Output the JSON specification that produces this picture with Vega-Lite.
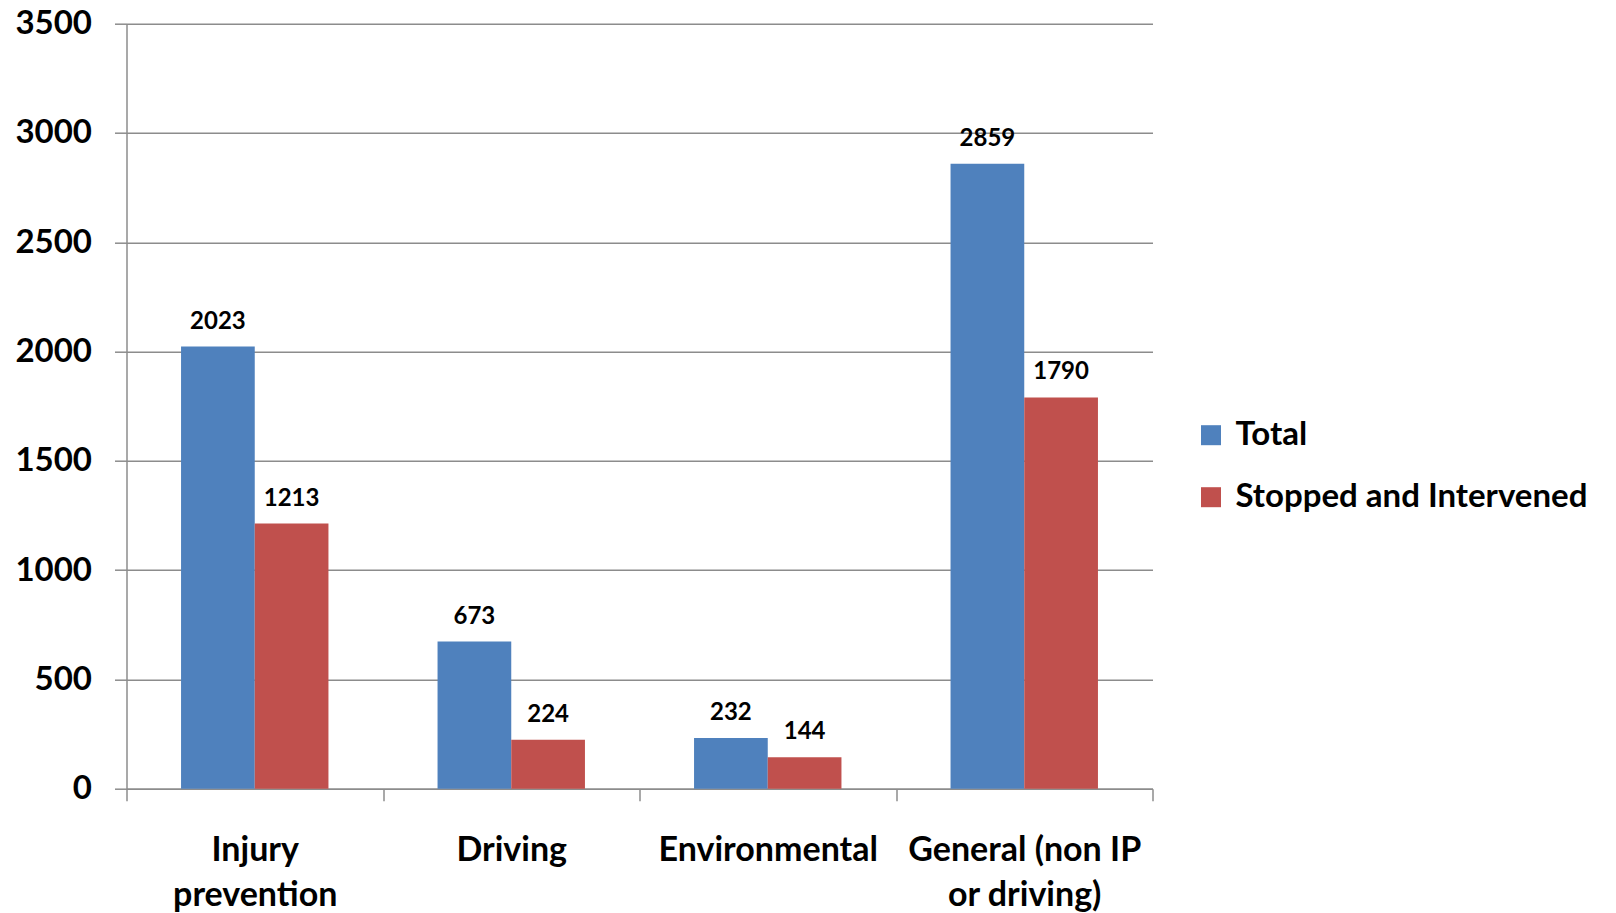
{
  "$schema": "https://vega.github.io/schema/vega-lite/v6.json",
  "autosize": {"type": "none"},
  "padding": {"left": 126.5, "top": 23.7, "right": 463.5, "bottom": 124.3},
  "width": 1026,
  "height": 765,
  "background": "white",
  "data": {
    "values": [
      {"category": "Injury prevention", "series": "Total", "value": 2023},
      {"category": "Injury prevention", "series": "Stopped and Intervened", "value": 1213},
      {"category": "Driving", "series": "Total", "value": 673},
      {"category": "Driving", "series": "Stopped and Intervened", "value": 224},
      {"category": "Environmental", "series": "Total", "value": 232},
      {"category": "Environmental", "series": "Stopped and Intervened", "value": 144},
      {"category": "General (non IP or driving)", "series": "Total", "value": 2859},
      {"category": "General (non IP or driving)", "series": "Stopped and Intervened", "value": 1790}
    ]
  },
  "config": {
    "view": {"stroke": null},
    "font": "Lato"
  },
  "encoding": {
    "x": {
      "field": "category",
      "type": "nominal",
      "sort": null,
      "title": null,
      "scale": {"paddingInner": 0, "paddingOuter": 0},
      "axis": {
        "labelAngle": 0,
        "labelFont": "Lato",
        "labelFontWeight": "bold",
        "labelFontSize": 34,
        "labelColor": "#000000",
        "labelLineHeight": 45,
        "labelPadding": 33,
        "labelLimit": 400,
        "tickBand": "extent",
        "tickSize": 12,
        "tickColor": "#8c8c8c",
        "tickWidth": 1.5,
        "domainColor": "#8c8c8c",
        "domainWidth": 1.5,
        "grid": false,
        "labelExpr": "datum.value == 'Injury prevention' ? ['Injury', 'prevention'] : datum.value == 'General (non IP or driving)' ? ['General (non IP', 'or driving)'] : datum.value"
      }
    },
    "xOffset": {
      "field": "series",
      "type": "nominal",
      "sort": ["Total", "Stopped and Intervened"],
      "scale": {"paddingInner": 0, "paddingOuter": 0.74}
    },
    "y": {
      "field": "value",
      "type": "quantitative",
      "title": null,
      "scale": {"domain": [0, 3500], "nice": false},
      "axis": {
        "values": [0, 500, 1000, 1500, 2000, 2500, 3000, 3500],
        "labelFont": "Lato",
        "labelFontWeight": "bold",
        "labelFontSize": 33,
        "labelColor": "#000000",
        "labelPadding": 23,
        "tickSize": 12,
        "tickColor": "#8c8c8c",
        "tickWidth": 1.5,
        "domainColor": "#8c8c8c",
        "domainWidth": 1.5,
        "gridColor": "#8c8c8c",
        "gridWidth": 1.5,
        "format": "d"
      }
    }
  },
  "layer": [
    {
      "mark": {"type": "bar"},
      "encoding": {
        "color": {
          "field": "series",
          "type": "nominal",
          "sort": ["Total", "Stopped and Intervened"],
          "scale": {"domain": ["Total", "Stopped and Intervened"], "range": ["#4F81BD", "#C0504D"]},
          "legend": {
            "title": null,
            "orient": "none",
            "legendX": 1068,
            "legendY": 395,
            "padding": 0,
            "symbolType": "square",
            "symbolSize": 400,
            "symbolStrokeWidth": 0,
            "labelFont": "Lato",
            "labelFontWeight": "bold",
            "labelFontSize": 33,
            "labelColor": "#000000",
            "labelOffset": 8,
            "labelLimit": 500,
            "rowPadding": 28
          }
        }
      }
    },
    {
      "mark": {"type": "text", "baseline": "alphabetic", "dy": -18, "font": "Lato", "fontWeight": "bold", "fontSize": 24, "color": "#000000"},
      "encoding": {
        "text": {"field": "value", "type": "quantitative", "format": "d"}
      }
    }
  ]
}
